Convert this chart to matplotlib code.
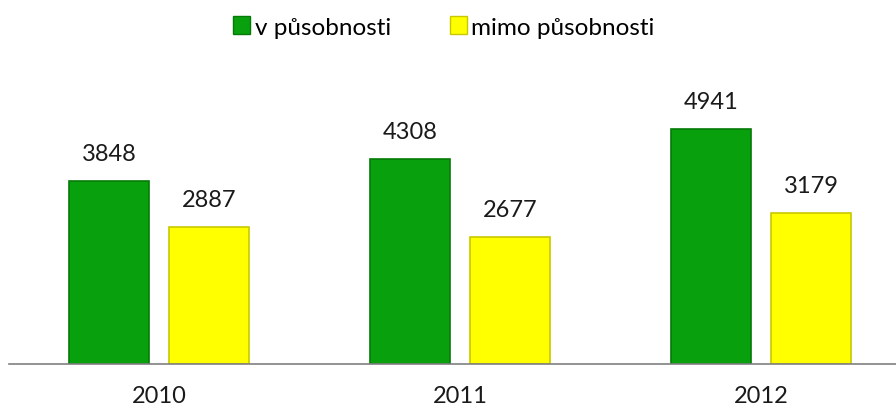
import numpy as np
import matplotlib.pyplot as plt
from matplotlib.patches import Patch

years = ["2010", "2011", "2012"]
v_pusobnosti = [3848, 4308, 4941]
mimo_pusobnosti = [2887, 2677, 3179]

plt.rcParams['font.family'] = ['Lato', 'DejaVu Sans']

fig = plt.figure(figsize=(8.96, 4.10), dpi=100)
# axes spans past the right edge, as in the original
ax = fig.add_axes([8.5 / 896, 45 / 410, 903 / 896, 285 / 410])

x = np.arange(len(years))
w = 0.266
off = 0.166
green = "#08A00C"
yellow = "#FFFF00"

b1 = ax.bar(x - off, v_pusobnosti, w, color=green, edgecolor="#067A09", linewidth=1.2)
b2 = ax.bar(x + off, mimo_pusobnosti, w, color=yellow, edgecolor="#C8C800", linewidth=1.2)

for bars in (b1, b2):
    for rect in bars:
        h = rect.get_height()
        ax.text(rect.get_x() + rect.get_width() / 2, h + 580, str(int(h)),
                ha="center", va="center", fontsize=17, color="#1a1a1a")

ax.set_xlim(-0.5, 2.5)
ax.set_ylim(0, 6000)
ax.set_xticks(x)
ax.set_xticklabels(years, fontsize=17, color="#1a1a1a")
ax.tick_params(axis="x", length=0, pad=15)
ax.set_yticks([])
for s in ["top", "left", "right"]:
    ax.spines[s].set_visible(False)
ax.spines["bottom"].set_color("#808080")
ax.spines["bottom"].set_linewidth(1.2)

handles = [Patch(facecolor=green, edgecolor="#067A09", label="v působnosti"),
           Patch(facecolor=yellow, edgecolor="#C8C800", label="mimo působnosti")]
fig.legend(handles=handles, loc="center", bbox_to_anchor=(444 / 896, 1 - 28 / 410),
           ncol=2, frameon=False, fontsize=17.5, handlelength=0.7, handleheight=0.7,
           handletextpad=0.2, columnspacing=2.4)

fig.savefig("out.png", dpi=100)
